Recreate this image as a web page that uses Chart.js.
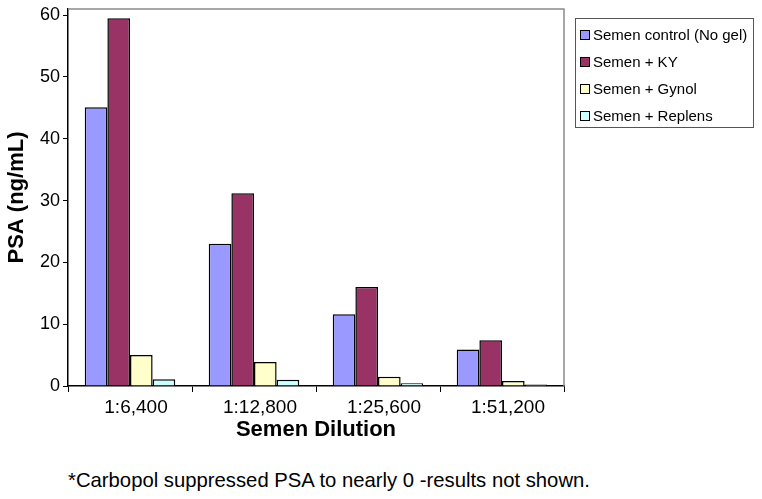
<!DOCTYPE html>
<html lang="en">
<head>
  <meta charset="UTF-8">
  <title>PSA by semen dilution</title>
  <script src="https://cdn.jsdelivr.net/npm/chart.js"></script>
  <style>
    body {
      margin: 0;
      background: #fff;
      font-family: "Liberation Sans", Arial, sans-serif;
    }
    .wrap {
      position: relative;
      width: 762px;
      height: 499px;
    }
    .chart-box {
      position: absolute;
      left: 0;
      top: 0;
      width: 762px;
      height: 447px;
    }
    .legend {
      position: absolute;
      left: 575px;
      top: 18px;
      width: 179px;
      height: 110px;
      border: 1px solid #555;
      box-sizing: border-box;
      padding-top: 2px;
    }
    .legend div {
      height: 27px;
      line-height: 27px;
      font-size: 15px;
      color: #000;
      white-space: nowrap;
      padding-left: 4px;
    }
    .legend span {
      display: inline-block;
      width: 8px;
      height: 8px;
      border: 1px solid #000;
      margin-right: 3px;
      vertical-align: 0px;
    }
    .note {
      position: absolute;
      left: 68px;
      top: 469px;
      font-size: 20.3px;
      color: #000;
    }
  </style>
</head>
<body>
<div class="wrap">
  <div class="chart-box"><canvas id="psaChart"></canvas></div>
  <div class="legend" id="legend"></div>
  <div class="note">*Carbopol suppressed PSA to nearly 0 -results not shown.</div>
</div>

<script>
  // dilutions on the x axis
  const dilutions = ['1:6,400', '1:12,800', '1:25,600', '1:51,200'];

  // PSA values (ng/mL)
  const semenControl = [45.1, 23.0, 11.6, 5.9];
  const semenKY      = [59.5, 31.2, 16.0, 7.4];
  const semenGynol   = [5.0, 3.9, 1.5, 0.8];
  const semenReplens = [1.1, 1.0, 0.45, 0.25];

  const seriesNames  = ['Semen control (No gel)', 'Semen + KY', 'Semen + Gynol', 'Semen + Replens'];
  const seriesColors = ['#9999FF', '#993366', '#FFFFCC', '#CCFFFF'];
  const yTicks = [0, 10, 20, 30, 40, 50, 60];

  const seriesData = [semenControl, semenKY, semenGynol, semenReplens];

  // legend in html
  const legendEl = document.getElementById('legend');
  seriesNames.forEach((name, i) => {
    const row = document.createElement('div');
    const sw = document.createElement('span');
    sw.style.background = seriesColors[i];
    row.appendChild(sw);
    row.appendChild(document.createTextNode(name));
    legendEl.appendChild(row);
  });

  // gray frame on top and right of the plot area
  const frame = {
    id: 'frame',
    afterDraw(chart) {
      const a = chart.chartArea;
      const ctx = chart.ctx;
      ctx.save();
      ctx.strokeStyle = '#8a8a8a';
      ctx.lineWidth = 1.5;
      ctx.beginPath();
      ctx.moveTo(a.left, a.top);
      ctx.lineTo(a.right, a.top);
      ctx.lineTo(a.right, a.bottom);
      ctx.stroke();
      ctx.restore();
    }
  };

  const family = '"Liberation Sans", Arial, sans-serif';

  new Chart(document.getElementById('psaChart'), {
    type: 'bar',
    data: {
      labels: dilutions,
      datasets: seriesNames.map((name, i) => ({
        label: name,
        data: seriesData[i],
        backgroundColor: seriesColors[i],
        borderColor: '#000',
        borderWidth: 1.5,
        barPercentage: 1,
        categoryPercentage: 0.73
      }))
    },
    options: {
      responsive: true,
      maintainAspectRatio: false,
      animation: false,
      layout: { padding: { top: 9, right: 198, left: 0, bottom: 0 } },
      plugins: {
        legend: { display: false },
        tooltip: { enabled: false }
      },
      scales: {
        x: {
          grid: { drawOnChartArea: false, drawTicks: true, tickLength: 6, color: '#000' },
          border: { color: '#000', width: 1.5 },
          ticks: { color: '#000', font: { family: family, size: 19 }, padding: 4, labelOffset: 6 },
          title: {
            display: true,
            text: 'Semen Dilution',
            color: '#000',
            font: { family: family, size: 22, weight: 'bold' },
            padding: { top: 0, bottom: 4 }
          },
          afterFit(scale) {
            scale.height = 61;
            scale.paddingLeft = 0;
            scale.paddingRight = 0;
          }
        },
        y: {
          min: 0,
          max: 61,
          grid: { drawOnChartArea: false, drawTicks: true, tickLength: 5, color: '#000' },
          border: { color: '#000', width: 1.5 },
          afterBuildTicks(scale) { scale.ticks = yTicks.map(v => ({ value: v })); },
          ticks: { color: '#000', font: { family: family, size: 18 }, padding: 3 },
          title: {
            display: true,
            text: 'PSA (ng/mL)',
            color: '#000',
            font: { family: family, size: 22, weight: 'bold' },
            padding: { top: 4, bottom: 2 }
          },
          afterFit(scale) {
            scale.width = 68;
            scale.paddingTop = 0;
            scale.paddingBottom = 0;
          }
        }
      }
    },
    plugins: [frame]
  });
</script>
</body>
</html>
